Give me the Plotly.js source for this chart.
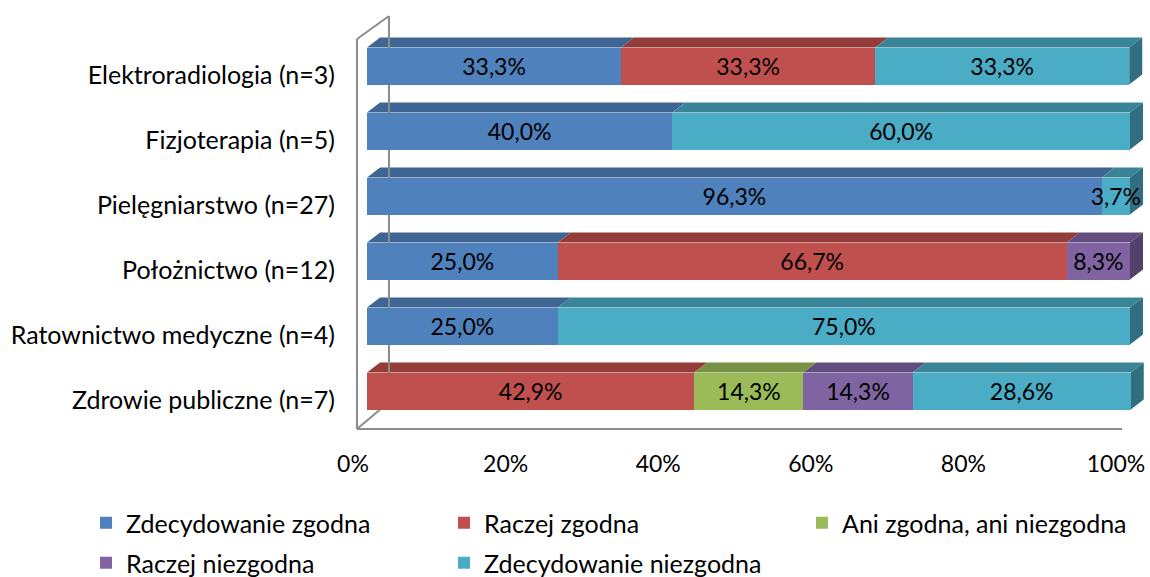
<!DOCTYPE html>
<html><head><meta charset="utf-8">
<script src="https://cdn.plot.ly/plotly-3.0.1.min.js"></script>
<style>html,body{margin:0;padding:0;background:#fff}#chart{width:1150px;height:577px}</style>
</head><body><div id="chart"></div>
<script>
// ---- data ----
const categories = ["Elektroradiologia (n=3)", "Fizjoterapia (n=5)", "Pielęgniarstwo (n=27)", "Położnictwo (n=12)", "Ratownictwo medyczne (n=4)", "Zdrowie publiczne (n=7)"];
const seriesNames = ["Zdecydowanie zgodna", "Raczej zgodna", "Ani zgodna, ani niezgodna", "Raczej niezgodna", "Zdecydowanie niezgodna"];
const zdecydowanieZgodna    = [33.3, 40.0, 96.3, 25.0, 25.0, null];
const raczejZgodna          = [33.3, null, null, 66.7, null, 42.9];
const aniZgodnaAniNiezgodna = [null, null, null, null, null, 14.3];
const raczejNiezgodna       = [null, null, null, 8.3, null, 14.3];
const zdecydowanieNiezgodna = [33.3, 60.0, 3.7, null, 75.0, 28.6];
const xTickValues = [0, 20, 40, 60, 80, 100];
const xTickLabels = ["0%", "20%", "40%", "60%", "80%", "100%"];

// ---- style ----
const colors     = ["#4F81BD", "#C0504D", "#9BBB59", "#8064A2", "#4BACC6"];
const topColors  = ["#3E6593", "#943C3A", "#789245", "#634D7E", "#3A8498"];
const sideColors = ["#345579", "#7C3331", "#647A39", "#534169", "#316F80"];
const FONT = "Lato, 'Open Sans', sans-serif";
const FS_NUM = 23, FS_TXT = 25;

// pixel geometry
const ML = 340, MR = 2, MT = 10, MB = 137, W = 1150, H = 577;
const ZERO_PX = 367, PX = 7.63;       // px per 1% on x
const ROW0_PX = 66, PY = 65;          // px per category row
const fx = px => (px - ZERO_PX) / PX;
const fy = py => (py - ROW0_PX) / PY;
const xRange = [fx(ML), fx(W - MR)];
const yRange = [fy(H - MB), fy(MT)];
const barW = 37 / PY;
const dX = 13 / PX, dY = 10 / PY;

const series = [zdecydowanieZgodna, raczejZgodna, aniZgodnaAniNiezgodna, raczejNiezgodna, zdecydowanieNiezgodna];
const yIdx = categories.map((c, i) => i);
const legendIds = ['legend', 'legend2', 'legend3', 'legend4', 'legend5'];

const traces = series.map((vals, s) => ({
  type: 'bar', orientation: 'h', name: seriesNames[s],
  x: vals, y: yIdx, width: barW,
  marker: {color: colors[s], line: {width: 0}},
  texttemplate: '%{x:.1f}%', textposition: 'inside', insidetextanchor: 'middle',
  textangle: 0, constraintext: 'none', cliponaxis: false,
  textfont: {family: FONT, size: FS_NUM, color: '#000'},
  hoverinfo: 'skip',
  legend: legendIds[s]
}));

// 3D faces derived from data
const shapes = [];
categories.forEach((c, i) => {
  let cum = 0, last = -1;
  const yT = i - barW / 2, yB = i + barW / 2;
  series.forEach((vals, s) => {
    const v = vals[i];
    if (v == null) return;
    const a = cum, b = cum + v;
    shapes.push({type: 'path', xref: 'x', yref: 'y', layer: 'below', line: {width: 0},
      fillcolor: topColors[s],
      path: `M${a},${yT} L${b},${yT} L${b + dX},${yT - dY} L${a + dX},${yT - dY} Z`});
    cum = b; last = s;
  });
  shapes.push({type: 'path', xref: 'x', yref: 'y', layer: 'below', line: {width: 0},
    fillcolor: sideColors[last],
    path: `M${cum},${yT} L${cum + dX},${yT - dY} L${cum + dX},${yB - dY} L${cum},${yB} Z`});
});
// frame (wall / floor edges)
const frameColor = '#8C8C8C';
const frameLines = [
  [357, 39, 357, 429], [357, 39, 389, 16], [389, 16, 389, 402],
  [357, 429, 389, 402], [357, 429, 1122, 429]
];
frameLines.forEach(l => shapes.push({type: 'line', xref: 'x', yref: 'y', layer: 'below',
  x0: fx(l[0]), y0: fy(l[1]), x1: fx(l[2]), y1: fy(l[3]), line: {color: frameColor, width: 2}}));

// legend placement: 3 columns x 2 rows
const legCols = [86, 444, 802];
const legRows = [523, 563];
const legendBase = {orientation: 'h', xanchor: 'left', yanchor: 'middle', xref: 'container', yref: 'container',
  font: {family: FONT, size: FS_TXT, color: '#000'}, bgcolor: 'rgba(0,0,0,0)'};

const layout = {
  width: W, height: H,
  margin: {l: ML, r: MR, t: MT, b: MB, autoexpand: false},
  paper_bgcolor: '#fff', plot_bgcolor: 'rgba(0,0,0,0)',
  barmode: 'stack', separators: ', ',
  font: {family: FONT, size: FS_TXT, color: '#000'},
  xaxis: {range: xRange, showgrid: false, zeroline: false, showline: false,
    tickmode: 'array', tickvals: xTickValues, ticktext: xTickLabels, ticks: '',
    ticklabelshift: -14, ticklabelstandoff: 8, tickfont: {family: FONT, size: FS_NUM, color: '#000'}},
  yaxis: {range: yRange, showgrid: false, zeroline: false, showline: false,
    tickmode: 'array', tickvals: yIdx, ticktext: categories, ticks: '',
    ticklabelshift: -9, ticklabelstandoff: 4, tickfont: {family: FONT, size: FS_TXT, color: '#000'}},
  shapes: shapes,
  showlegend: true
};
legendIds.forEach((id, s) => {
  layout[id] = Object.assign({}, legendBase, {
    x: legCols[s % 3] / W, y: (H - legRows[Math.floor(s / 3)]) / H});
});

Plotly.newPlot('chart', traces, layout, {displayModeBar: false, staticPlot: true});
</script>
</body></html>
